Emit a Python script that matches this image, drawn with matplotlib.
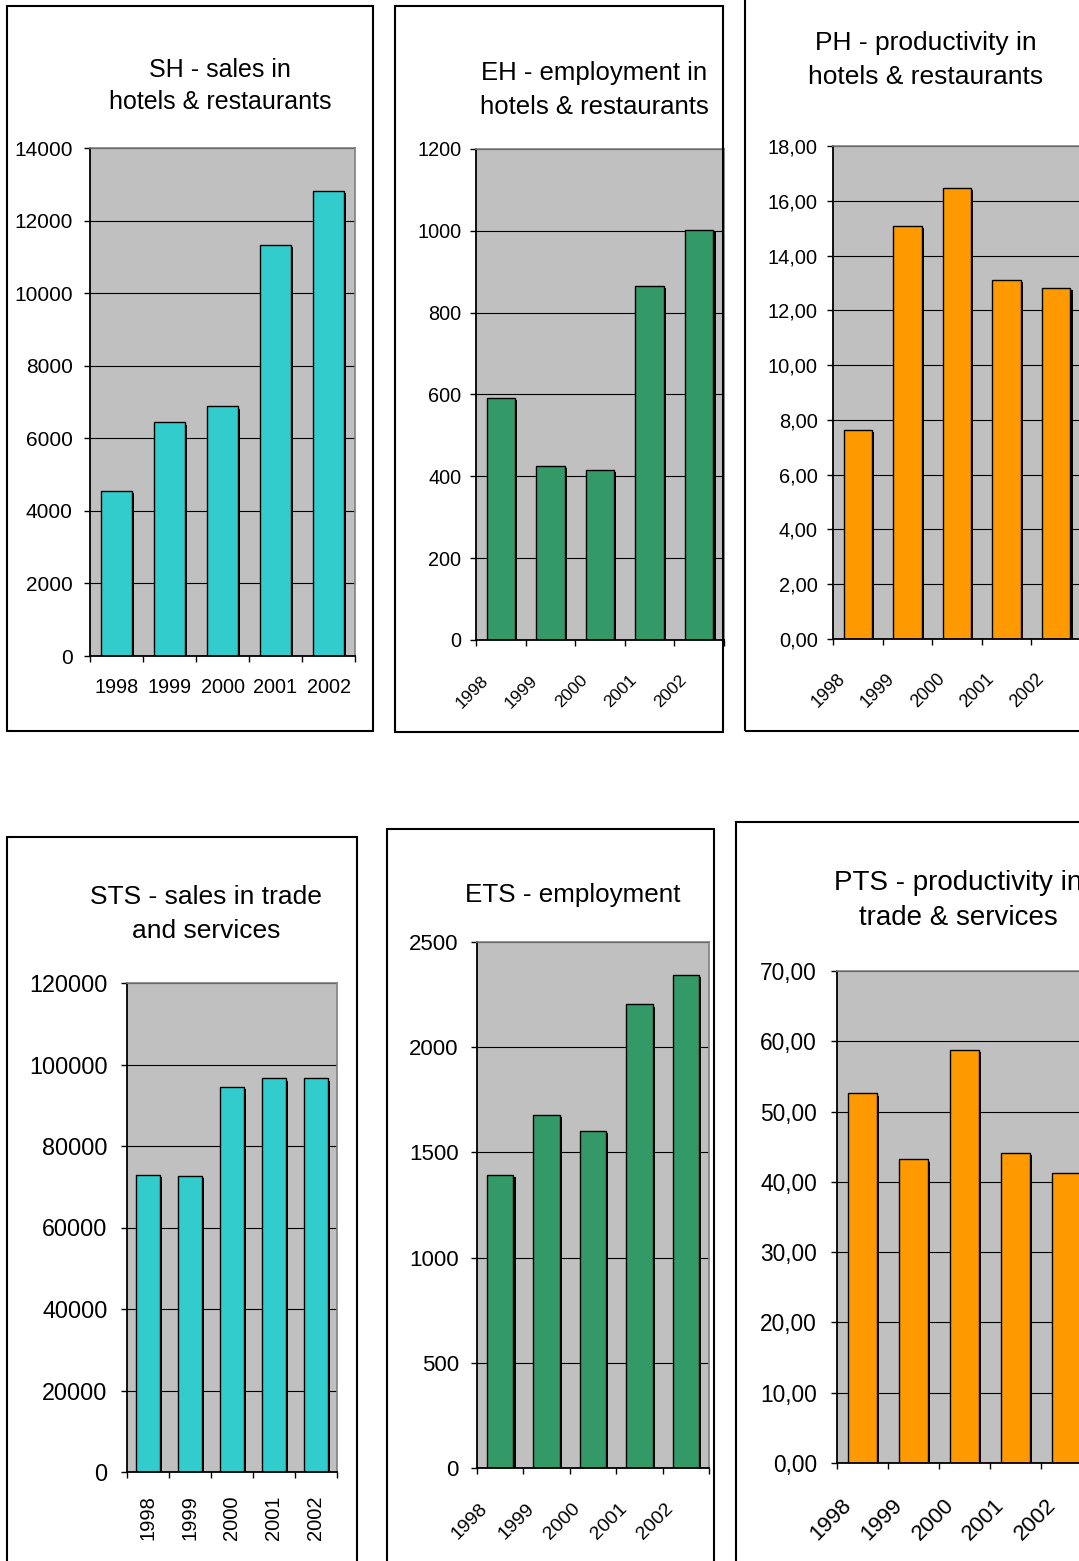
import numpy as np
import matplotlib
matplotlib.use("Agg")
import matplotlib.pyplot as plt
import matplotlib.transforms as mtransforms
from matplotlib.patches import Rectangle
from matplotlib import patheffects as pe
from matplotlib.ticker import FuncFormatter, MultipleLocator
from matplotlib import font_manager

plt.rcParams['font.family'] = ['Liberation Sans', 'DejaVu Sans']

# ---- data -------------------------------------------------------------
years = ['1998', '1999', '2000', '2001', '2002']
sh_sales = [4550, 6440, 6880, 11340, 12820]          # hotels & restaurants
eh_employment = [591, 425, 415, 866, 1002]
ph_productivity = [7.64, 15.08, 16.47, 13.11, 12.82]
sts_sales = [73000, 72600, 94600, 96600, 96600]      # trade & services
ets_employment = [1394, 1679, 1603, 2203, 2345]
pts_productivity = [52.6, 43.2, 58.8, 44.1, 41.3]

CYAN = '#33CCCC'
GREEN = '#339966'
ORANGE = '#FF9900'
PLOT_BG = '#C0C0C0'

# narrow face for the slanted year labels, if the system has one
_names = {f.name for f in font_manager.fontManager.ttflist}
NARROW = ['Liberation Sans Narrow'] if 'Liberation Sans Narrow' in _names else []
DIAG_FAMILY = NARROW + ['Liberation Sans', 'DejaVu Sans']

W, H = 1079, 1561
fig = plt.figure(figsize=(W / 100, H / 100), dpi=100)
fig.patch.set_facecolor('white')


def frame(l, t, r, b):
    fig.add_artist(Rectangle((l / W, 1 - b / H), (r - l) / W, (b - t) / H,
                             transform=fig.transFigure, fill=False,
                             ec='black', lw=1.5, zorder=5))


def title(lines, cx, ys, size):
    for txt, y in zip(lines, ys):
        fig.text(cx / W, 1 - y / H, txt, ha='center', va='center',
                 fontsize=size, color='black')


def comma2(v, pos):
    return f'{v:.2f}'.replace('.', ',')


def plain(v, pos):
    return f'{v:.0f}'


def panel(box, values, color, ymax, ystep, fmt, ysize, ypad,
          label_mode, label_size, dx, dy):
    l, t, r, b = box
    ax = fig.add_axes([l / W, 1 - b / H, (r - l) / W, (b - t) / H])
    n = len(values)
    x = np.arange(n)
    bars = ax.bar(x, values, width=0.57, color=color, edgecolor='black',
                  linewidth=1.0, zorder=2)
    for p in bars:
        p.set_path_effects([pe.SimplePatchShadow(offset=(1.6, -1.6),
                                                 shadow_rgbFace='black',
                                                 alpha=1.0),
                            pe.Normal()])
    ax.set_xlim(-0.5, n - 0.5)
    ax.set_ylim(0, ymax)
    ax.set_facecolor(PLOT_BG)
    ax.set_axisbelow(True)
    ax.yaxis.set_major_locator(MultipleLocator(ystep))
    ax.yaxis.set_major_formatter(FuncFormatter(fmt))
    ax.yaxis.grid(True, color='black', lw=0.8)
    ax.set_xticks(np.arange(n + 1) - 0.5)
    ax.set_xticklabels([])
    ax.tick_params(axis='both', direction='out', length=4.5, width=1.0,
                   color='black')
    ax.tick_params(axis='y', labelsize=ysize, pad=ypad)
    for s in ('left', 'bottom'):
        ax.spines[s].set_color('black')
        ax.spines[s].set_linewidth(1.3)
    for s in ('top', 'right'):
        ax.spines[s].set_color('#808080')
        ax.spines[s].set_linewidth(1.2)

    trans = mtransforms.offset_copy(ax.get_xaxis_transform(), fig=fig,
                                    x=dx, y=dy, units='dots')
    for i, yr in enumerate(years):
        if label_mode == 'flat':
            ax.text(i, 0, yr, transform=trans, ha='center', va='center',
                    fontsize=label_size)
        elif label_mode == 'vertical':
            ax.text(i, 0, yr, transform=trans, ha='center', va='top',
                    rotation=90, fontsize=label_size)
        else:
            ax.text(i, 0, yr, transform=trans, ha='right', va='center',
                    rotation=45, rotation_mode='anchor',
                    fontsize=label_size, family=DIAG_FAMILY)
    return ax


# ---- top row: hotels & restaurants ------------------------------------
frame(7, 6, 373, 731)
title(['SH - sales in', 'hotels & restaurants'], 220, [70, 102], 18)
panel((90, 148, 355, 656), sh_sales, CYAN, 14000, 2000, plain, 15, 8,
      'flat', 14.3, 0, -31)

frame(395, 6, 723, 732)
title(['EH - employment in', 'hotels & restaurants'], 594, [73, 107], 18.5)
panel((476, 149, 724, 640), eh_employment, GREEN, 1200, 200, plain, 14.3, 6,
      'diag', 12.5, -15, -38)

frame(745, -20, 1100, 731)
title(['PH - productivity in', 'hotels & restaurants'], 926, [43, 77], 19)
panel((833, 146, 1081, 639), ph_productivity, ORANGE, 18, 2, comma2, 14.4,
      6.5, 'diag', 13, -15, -37)

# ---- bottom row: trade & services ---------------------------------------
frame(7, 837, 357, 1600)
title(['STS - sales in trade', 'and services'], 206, [897, 931], 19)
panel((127, 983, 337, 1472), sts_sales, CYAN, 120000, 20000, plain, 16.8,
      9.4, 'vertical', 14.5, 0, -23)

frame(387, 829, 714, 1600)
title(['ETS - employment'], 573, [895], 18.7)
panel((477, 942, 709, 1468), ets_employment, GREEN, 2500, 500, plain, 16,
      8.6, 'diag', 14, -15, -38)

frame(736, 822, 1100, 1600)
title(['PTS - productivity in', 'trade & services'], 958, [883, 918], 20)
panel((837, 971, 1092, 1463), pts_productivity, ORANGE, 70, 10, comma2,
      16.4, 10, 'diag', 16, -14, -39)

fig.savefig('out.png', dpi=100)
